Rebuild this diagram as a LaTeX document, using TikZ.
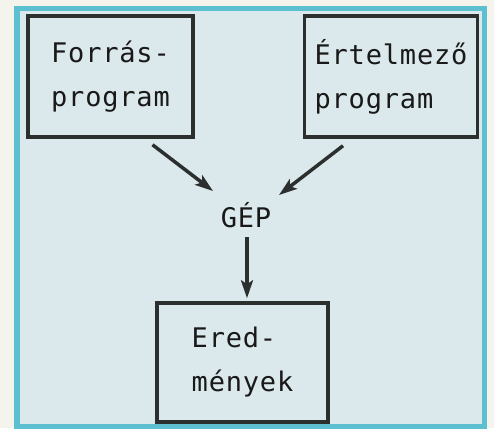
\documentclass[tikz,border=0pt]{standalone}
\usepackage{fontspec}
\setmonofont[LetterSpace=3]{DejaVu Sans Mono}
\usetikzlibrary{arrows.meta}
\usetikzlibrary{positioning}
\usetikzlibrary{calc}

\definecolor{paper}{HTML}{F4F3EC}
\definecolor{panel}{HTML}{DBE8EC}
\definecolor{frame}{HTML}{5CC0D0}
\definecolor{ink}{HTML}{2B302F}

\begin{document}
\begin{tikzpicture}[x=1pt, y=1pt,
      box/.style={rectangle, draw=ink, line width=3.5pt, fill=panel, align=left, inner sep=0pt,
        font=\ttfamily\fontsize{27pt}{44pt}\selectfont, text=black!90},
      label/.style={inner sep=0pt, font=\ttfamily\fontsize{27pt}{44pt}\selectfont, text=black!90},
      arrow/.style={-{Stealth[length=18pt, width=12pt, inset=4pt]}, line width=3.5pt, draw=ink}
      ]

      % Background
      \fill[paper] (0,0) rectangle (494,-428);
      \draw[frame, line width=5.5pt, fill=panel] (17,-8.5) rectangle (484.5,-426.5);
      \useasboundingbox (0,0) rectangle (494,-428);

      % Nodes
      \node[box, minimum width=165pt, minimum height=121pt] (src) at (110.5,-76.5) {Forrás-\\program};
      \node[box, minimum width=173pt, minimum height=121pt, right=108pt of src] (interp) {Értelmező\\program};

      \node[label] (gep) at (246,-215) {GÉP};
      \node[box, minimum width=171pt, minimum height=119pt] (res) at (242.5,-362.5) {Ered-\\mények};

      % Arrows
      \draw[arrow] ([shift={(42pt,-6pt)}]src.south) -- ([shift={(-33pt,24pt)}]gep.center);
      \draw[arrow] ([shift={(-48pt,-7pt)}]interp.south) -- ([shift={(33pt,20pt)}]gep.center);
      \draw[arrow] ([shift={(1pt,-22pt)}]gep.center) -- ([shift={(4.5pt,3pt)}]res.north);

    \end{tikzpicture}
\end{document}
